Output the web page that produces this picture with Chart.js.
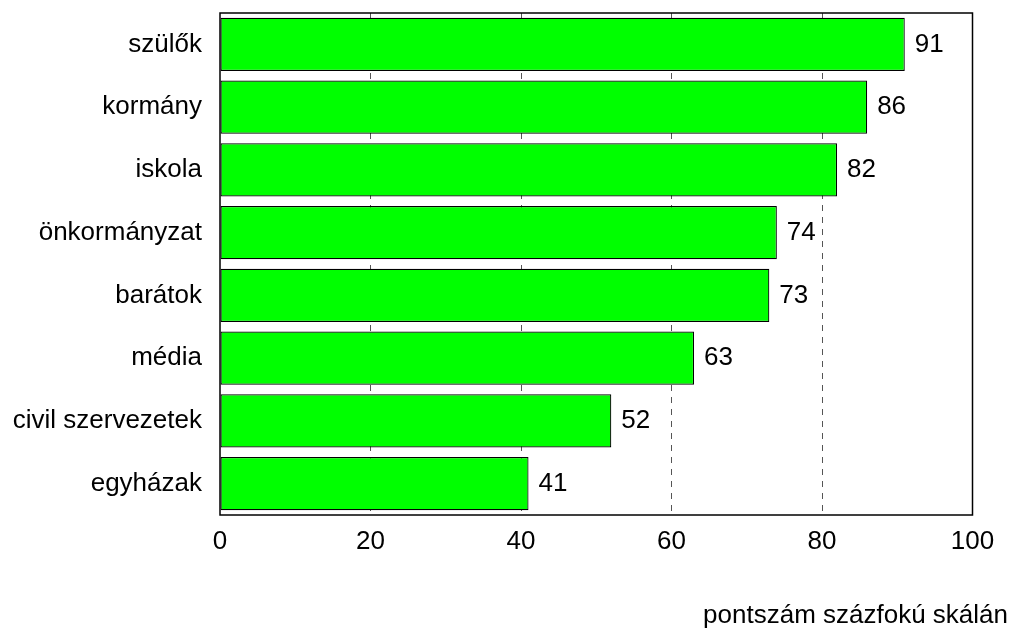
<!DOCTYPE html>
<html>
<head>
<meta charset="utf-8">
<script src="https://cdn.jsdelivr.net/npm/chart.js@4"></script>
<style>
  html, body { margin: 0; padding: 0; background: #fff; }
  #wrap { width: 1013px; height: 630px; }
</style>
</head>
<body>
<div id="wrap"><canvas id="c" width="1013" height="630"></canvas></div>
<script>
const categories = ["szülők", "kormány", "iskola", "önkormányzat", "barátok", "média", "civil szervezetek", "egyházak"];
const values = [91, 86, 82, 74, 73, 63, 52, 41];
const xTicks = [0, 20, 40, 60, 80, 100];
const axisNote = "pontszám százfokú skálán";

const FONT = '"Liberation Sans", Arial, sans-serif';

const frameAndLabels = {
  id: 'frameAndLabels',
  afterDatasetsDraw(chart) {
    const ctx = chart.ctx;
    const meta = chart.getDatasetMeta(0);
    ctx.save();
    ctx.font = '26px ' + FONT;
    ctx.fillStyle = '#000';
    ctx.textAlign = 'left';
    ctx.textBaseline = 'middle';
    meta.data.forEach((bar, i) => {
      ctx.fillText(String(values[i]), bar.x + 10, bar.y);
    });
    ctx.restore();
  },
  afterDraw(chart) {
    const ctx = chart.ctx;
    const a = chart.chartArea;
    ctx.save();
    ctx.strokeStyle = '#000';
    ctx.lineWidth = 1.5;
    ctx.strokeRect(a.left, a.top, a.right - a.left, a.bottom - a.top);
    ctx.font = '26px ' + FONT;
    ctx.fillStyle = '#000';
    ctx.textAlign = 'right';
    ctx.textBaseline = 'alphabetic';
    ctx.fillText(axisNote, chart.width - 5, chart.height - 7);
    ctx.restore();
  }
};

new Chart(document.getElementById('c'), {
  type: 'bar',
  data: {
    labels: categories,
    datasets: [{
      data: values,
      backgroundColor: '#00ff00',
      borderColor: '#000',
      borderWidth: 1.2,
      borderSkipped: false,
      barPercentage: 0.845,
      categoryPercentage: 1.0
    }]
  },
  options: {
    indexAxis: 'y',
    responsive: false,
    animation: false,
    devicePixelRatio: 1,
    layout: { padding: { left: 0, right: 40.5, top: 13, bottom: 0 } },
    plugins: {
      legend: { display: false },
      tooltip: { enabled: false },
      title: { display: false }
    },
    scales: {
      x: {
        min: 0,
        max: 100,
        afterBuildTicks(scale) { scale.ticks = xTicks.map(v => ({ value: v })); },
        afterFit(scale) { scale.height = 115; scale.paddingLeft = 0; scale.paddingRight = 0; },
        grid: {
          drawTicks: false,
          color: ctx => (ctx.tick && (ctx.tick.value === 0 || ctx.tick.value === 100)) ? 'rgba(0,0,0,0)' : '#555',
          lineWidth: 1
        },
        border: { display: false, dash: [6, 6] },
        ticks: {
          padding: 11,
          color: '#000',
          font: { size: 26, family: FONT },
          maxRotation: 0
        }
      },
      y: {
        afterFit(scale) { scale.width = 220; scale.paddingTop = 0; scale.paddingBottom = 0; },
        grid: { display: false, drawTicks: false },
        border: { display: false },
        ticks: {
          padding: 18,
          color: '#000',
          font: { size: 26, family: FONT }
        }
      }
    }
  },
  plugins: [frameAndLabels]
});
</script>
</body>
</html>
